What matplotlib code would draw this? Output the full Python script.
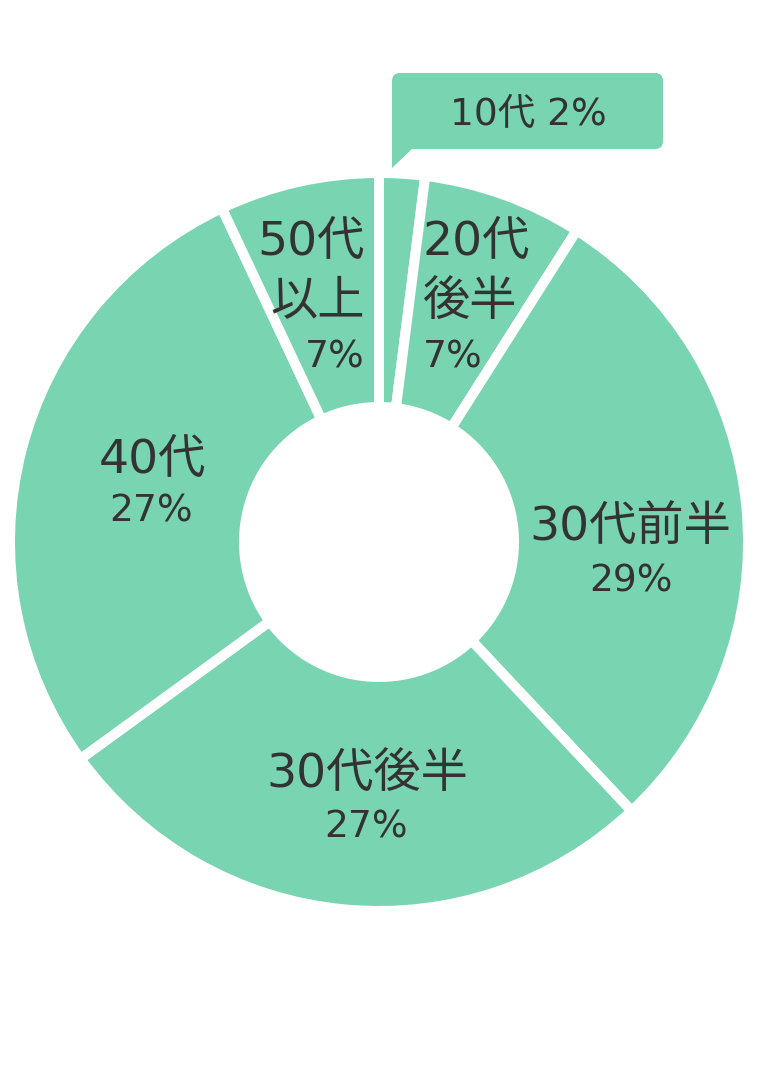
import matplotlib
matplotlib.use("Agg")
import matplotlib.pyplot as plt
from matplotlib.patches import FancyBboxPatch, Polygon

plt.rcParams['font.family'] = ['DejaVu Sans', 'Noto Sans CJK JP']

# data
categories = ["10代", "20代後半", "30代前半", "30代後半", "40代", "50代以上"]
shares = [2, 7, 29, 27, 28, 7]          # slice sizes as drawn
pct_labels = ["2%", "7%", "29%", "27%", "27%", "7%"]  # percentages as printed

GREEN = "#79D4B2"
TEXT = "#333333"
W, H = 758, 1086

fig = plt.figure(figsize=(W / 100, H / 100), dpi=100)
ax = fig.add_axes([0, 0, 1, 1])
ax.set_xlim(0, W)
ax.set_ylim(0, H)
ax.set_aspect('equal')
ax.axis('off')


def Y(py):
    return H - py


ax.pie(shares, startangle=90, counterclock=False, radius=369,
       center=(379, Y(542)), colors=[GREEN] * len(shares),
       wedgeprops=dict(width=234, edgecolor='white', linewidth=7.2))
ax.set_xlim(0, W)
ax.set_ylim(0, H)

# callout for the small slice
box = FancyBboxPatch((392, Y(149)), 663 - 392, 149 - 73,
                     boxstyle="round,pad=0,rounding_size=8",
                     facecolor=GREEN, edgecolor='none')
ax.add_patch(box)
ax.add_patch(Polygon([(392, Y(140)), (392, Y(168)), (412, Y(149)), (420, Y(140))],
                     closed=True, facecolor=GREEN, edgecolor='none'))

FW = 'normal'
ax.text(528, Y(125), f"{categories[0]} {pct_labels[0]}", ha='center', va='baseline',
        fontsize=27, color=TEXT, fontweight=FW)

NAME_FS = 34
PCT_FS = 27

# 20代後半 (left aligned)
ax.text(423, Y(255), "20代", ha='left', va='baseline', fontsize=NAME_FS, color=TEXT, fontweight=FW)
ax.text(423, Y(315), "後半", ha='left', va='baseline', fontsize=NAME_FS, color=TEXT, fontweight=FW)
ax.text(423, Y(368), pct_labels[1], ha='left', va='baseline', fontsize=PCT_FS, color=TEXT, fontweight=FW)

# 50代以上 (right aligned)
ax.text(365, Y(255), "50代", ha='right', va='baseline', fontsize=NAME_FS, color=TEXT, fontweight=FW)
ax.text(365, Y(315), "以上", ha='right', va='baseline', fontsize=NAME_FS, color=TEXT, fontweight=FW)
ax.text(365, Y(368), pct_labels[5], ha='right', va='baseline', fontsize=PCT_FS, color=TEXT, fontweight=FW)

# 30代前半
ax.text(630, Y(540), categories[2], ha='center', va='baseline', fontsize=NAME_FS, color=TEXT, fontweight=FW)
ax.text(631, Y(592), pct_labels[2], ha='center', va='baseline', fontsize=PCT_FS, color=TEXT, fontweight=FW)

# 30代後半
ax.text(367, Y(787), categories[3], ha='center', va='baseline', fontsize=NAME_FS, color=TEXT, fontweight=FW)
ax.text(366, Y(837), pct_labels[3], ha='center', va='baseline', fontsize=PCT_FS, color=TEXT, fontweight=FW)

# 40代
ax.text(152, Y(473), categories[4], ha='center', va='baseline', fontsize=NAME_FS, color=TEXT, fontweight=FW)
ax.text(151, Y(522), pct_labels[4], ha='center', va='baseline', fontsize=PCT_FS, color=TEXT, fontweight=FW)

fig.savefig("out.png", dpi=100, facecolor='white')
